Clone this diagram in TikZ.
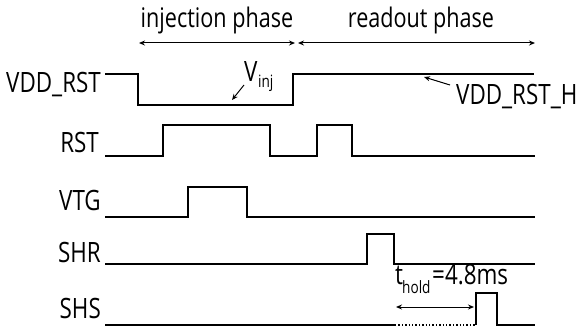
\documentclass[tikz,border=0pt]{standalone}
\usepackage{fontspec}
\setmainfont{Open Sans}[FakeStretch=0.8]
\usetikzlibrary{arrows.meta}
\begin{document}
\begin{tikzpicture}[x=1pt,y=-1pt,
  sig/.style={line width=1.4pt, line join=miter},
  lbl/.style={font=\fontsize{28}{30}\selectfont, inner sep=0pt, anchor=base east},
  txt/.style={font=\fontsize{28}{30}\selectfont, inner sep=0pt},
  head/.style={font=\fontsize{27}{29}\selectfont, inner sep=0pt, anchor=base},
  sub/.style={font=\fontsize{17}{18}\selectfont, inner sep=0pt},
  tip/.style={-{Stealth[length=6pt,width=5pt]}, line width=1pt},
  dbl/.style={{Stealth[length=6pt,width=5pt]}-{Stealth[length=6pt,width=5pt]}, line width=1pt}]
\useasboundingbox (0,0) rectangle (579,329);

% phase headings and their spans
\node[head] (tinj) at (217,28) {injection phase};
\node[head] (tread) at (421,28) {readout phase};
\coordinate (ia) at (139,43);
\coordinate (ib) at (295,43);
\coordinate (ra) at (298,43);
\coordinate (rb) at (535,43);
\draw[dbl] (ia) -- (ib);
\draw[dbl] (ra) -- (rb);

% signal names
\node[lbl] (lvdd) at (101,93) {VDD\_RST};
\node[lbl] (lrst) at (99,153) {RST};
\node[lbl] (lvtg) at (101,210) {VTG};
\node[lbl] (lshr) at (101,262) {SHR};
\node[lbl] (lshs) at (101,318) {SHS};

% VDD_RST
\draw[sig] (105,74) -- (138,74) -- (138,105) -- (293,105) -- (293,74) -- (534,74);
% RST
\draw[sig] (105,156) -- (163,156) -- (163,125) -- (270,125) -- (270,156)
  -- (317,156) -- (317,125) -- (352,125) -- (352,156) -- (535,156);
% VTG
\draw[sig] (105,217) -- (188,217) -- (188,187) -- (247,187) -- (247,217) -- (535,217);
% SHR
\draw[sig] (105,264) -- (367,264) -- (367,234) -- (394,234) -- (394,264) -- (535,264);
% SHS with the hold interval dotted
\draw[sig] (105,325) -- (395,325);
\draw[sig, dotted, line width=1.2pt] (395,325) -- (476,325);
\draw[sig] (476,325) -- (476,293) -- (497,293) -- (497,325) -- (535,325);

% V_inj annotation
\node[txt, anchor=base west] (vv) at (244,82) {V};
\node[sub, anchor=base west] (vs) at (258,88) {inj};
\coordinate (va) at (244,85);
\coordinate (vb) at (232,100);
\draw[tip] (va) -- (vb);

% VDD_RST_H annotation
\node[txt, anchor=base west] (vh) at (456,105) {VDD\_RST\_H};
\coordinate (ha) at (450,85);
\coordinate (hb) at (424,77);
\draw[tip] (ha) -- (hb);

% hold time
\node[txt, anchor=base west] (th) at (395,284) {t};
\node[sub, anchor=base west] (ths) at (402,293) {hold};
\node[txt, anchor=base west] (tv) at (432,284) {=4.8ms};
\coordinate (hla) at (396,307);
\coordinate (hlb) at (474,307);
\draw[dbl] (hla) -- (hlb);
\end{tikzpicture}
\end{document}
